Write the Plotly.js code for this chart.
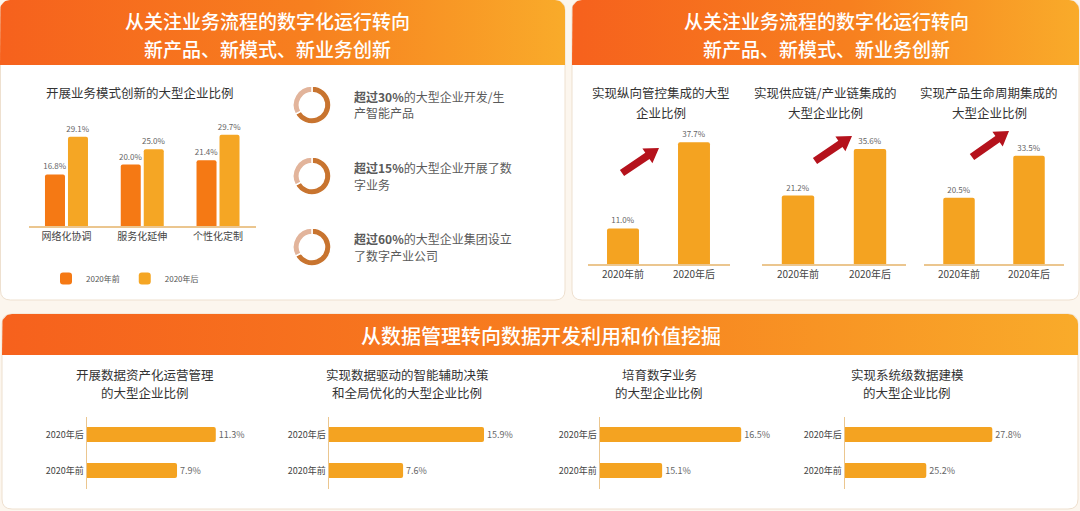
<!DOCTYPE html>
<html><head><meta charset="utf-8">
<script src="https://cdn.plot.ly/plotly-3.0.1.min.js"></script>
<style>html,body{margin:0;padding:0;background:#fcf6ee;}#chart{width:1080px;height:511px;}</style>
</head><body><div id="chart"></div>
<script>
// ---------- DATA ----------
const headerLeft = ['从关注业务流程的数字化运行转向', '新产品、新模式、新业务创新'];
const headerRight = ['从关注业务流程的数字化运行转向', '新产品、新模式、新业务创新'];
const headerBottom = '从数据管理转向数据开发利用和价值挖掘';

const tlTitle = '开展业务模式创新的大型企业比例';
const tlCategories = ['网络化协调', '服务化延伸', '个性化定制'];
const seriesNames = ['2020年前', '2020年后'];
const tlBefore = [16.8, 20.0, 21.4];
const tlAfter = [29.1, 25.0, 29.7];

const donutBold = ['超过30%', '超过15%', '超过60%'];
const donutLine1 = ['的大型企业开发/生', '的大型企业开展了数', '的大型企业集团设立'];
const donutLine2 = ['产智能产品', '字业务', '了数字产业公司'];
const donutShares = [67, 33];

const trTitles = [
  ['实现纵向管控集成的大型', '企业比例'],
  ['实现供应链/产业链集成的', '大型企业比例'],
  ['实现产品生命周期集成的', '大型企业比例']
];
const trPeriods = ['2020年前', '2020年后'];
const trValues1 = [11.0, 37.7];
const trValues2 = [21.2, 35.6];
const trValues3 = [20.5, 33.5];

const btTitles = [
  ['开展数据资产化运营管理', '的大型企业比例'],
  ['实现数据驱动的智能辅助决策', '和全局优化的大型企业比例'],
  ['培育数字业务', '的大型企业比例'],
  ['实现系统级数据建模', '的大型企业比例']
];
const btPeriods = ['2020年前', '2020年后'];
const btValues1 = [7.9, 11.3];
const btValues2 = [7.6, 15.9];
const btValues3 = [15.1, 16.5];
const btValues4 = [25.2, 27.8];

// ---------- HELPERS ----------
const W = 1080, H = 511;
const X = p => p / W, Y = p => 1 - p / H;
const xdom = (a, b) => [X(a), X(b)];
const ydom = (top, bottom) => [Y(bottom), Y(top)];
const FONT = '"Noto Sans CJK SC", "Noto Sans", sans-serif';
const pct = v => v.toFixed(1) + '%';

function topRounded(x0, y0, x1, y1, r) {
  const xs = [], ys = [];
  xs.push(x0); ys.push(y1);
  for (let i = 0; i <= 10; i++) { const a = Math.PI - (Math.PI / 2) * i / 10; xs.push(x0 + r + r * Math.cos(a)); ys.push(y0 + r - r * Math.sin(a)); }
  for (let i = 0; i <= 10; i++) { const a = Math.PI / 2 - (Math.PI / 2) * i / 10; xs.push(x1 - r + r * Math.cos(a)); ys.push(y0 + r - r * Math.sin(a)); }
  xs.push(x1); ys.push(y1);
  xs.push(x0); ys.push(y1);
  return {xs, ys};
}
function roundRectPath(x0, y0, x1, y1, r) {
  return `M${x0 + r},${y0} L${x1 - r},${y0} Q${x1},${y0} ${x1},${y0 + r} L${x1},${y1 - r} Q${x1},${y1} ${x1 - r},${y1} L${x0 + r},${y1} Q${x0},${y1} ${x0},${y1 - r} L${x0},${y0 + r} Q${x0},${y0} ${x0 + r},${y0} Z`;
}
function arrowPath(tx, ty, px, py, sw, hw, hl) {
  const dx = px - tx, dy = py - ty, L = Math.hypot(dx, dy);
  const ux = dx / L, uy = dy / L, nx = -uy, ny = ux;
  const bx = px - ux * hl, by = py - uy * hl;
  const pts = [[tx + nx * sw, ty + ny * sw], [bx + nx * sw, by + ny * sw], [bx + nx * hw, by + ny * hw], [px, py],
               [bx - nx * hw, by - ny * hw], [bx - nx * sw, by - ny * sw], [tx - nx * sw, ty - ny * sw]];
  return 'M' + pts.map(p => p[0].toFixed(1) + ',' + p[1].toFixed(1)).join(' L') + ' Z';
}

const gradScale = [[0, '#f6611d'], [0.55, '#f7801f'], [1, '#f9ab2a']];
function headerTrace(x0, y0, x1, y1) {
  const p = topRounded(x0, y0, x1, y1, 10);
  return {type: 'scatter', x: p.xs, y: p.ys, xaxis: 'x', yaxis: 'y', mode: 'lines', fill: 'toself',
    line: {width: 0, color: 'rgba(0,0,0,0)'}, fillcolor: '#f7801f',
    fillgradient: {type: 'horizontal', colorscale: gradScale},
    hoverinfo: 'skip', showlegend: false};
}

const traces = [];
traces.push(headerTrace(0, 0, 565, 65));
traces.push(headerTrace(572, 0, 1079, 65));
traces.push(headerTrace(2, 314, 1078, 355));

// top-left grouped bars
const ORANGE = '#f57914', YEL = '#f5a624', BARY = '#f4a321';
traces.push({type: 'bar', name: seriesNames[0], x: tlCategories, y: tlBefore, xaxis: 'x2', yaxis: 'y2',
  marker: {color: ORANGE}, text: tlBefore.map(pct), textposition: 'outside', constraintext: 'none', cliponaxis: false,
  textfont: {size: 8, color: '#666'}, hoverinfo: 'skip'});
traces.push({type: 'bar', name: seriesNames[1], x: tlCategories, y: tlAfter, xaxis: 'x2', yaxis: 'y2',
  marker: {color: YEL}, text: tlAfter.map(pct), textposition: 'outside', constraintext: 'none', cliponaxis: false,
  textfont: {size: 8, color: '#666'}, hoverinfo: 'skip'});

// top-right bars
[trValues1, trValues2, trValues3].forEach((vals, i) => {
  traces.push({type: 'bar', x: trPeriods, y: vals, xaxis: 'x' + (3 + i), yaxis: 'y' + (3 + i), width: 0.45,
    marker: {color: BARY}, text: vals.map(pct), textposition: 'outside', constraintext: 'none', cliponaxis: false,
    textfont: {size: 8, color: '#666'}, showlegend: false, hoverinfo: 'skip'});
});

// bottom horizontal bars
[btValues1, btValues2, btValues3, btValues4].forEach((vals, i) => {
  traces.push({type: 'bar', orientation: 'h', y: btPeriods, x: vals, xaxis: 'x' + (6 + i), yaxis: 'y' + (6 + i), width: 0.42,
    marker: {color: BARY}, text: vals.map(pct), textposition: 'outside', constraintext: 'none', cliponaxis: false,
    textfont: {size: 9, color: '#666'}, showlegend: false, hoverinfo: 'skip'});
});

// donuts
const donutY = [105, 176, 247];
donutY.forEach(cy => {
  traces.push({type: 'pie', values: donutShares, labels: ['a', 'b'], sort: false, direction: 'clockwise', rotation: 0,
    hole: 0.66, domain: {x: xdom(312 - 19, 312 + 19), y: ydom(cy - 19, cy + 19)},
    marker: {colors: ['#c8742f', '#e2b49b'], line: {color: '#ffffff', width: 1.5}},
    textinfo: 'none', showlegend: false, hoverinfo: 'skip'});
});

// ---------- LAYOUT ----------
const shapes = [
  {type: 'path', xref: 'x', yref: 'y', path: roundRectPath(0.5, 0.5, 565, 300, 10), fillcolor: '#ffffff', line: {color: '#eee0cf', width: 1}, layer: 'below'},
  {type: 'path', xref: 'x', yref: 'y', path: roundRectPath(572, 0.5, 1079, 300, 10), fillcolor: '#ffffff', line: {color: '#eee0cf', width: 1}, layer: 'below'},
  {type: 'path', xref: 'x', yref: 'y', path: roundRectPath(2, 314, 1078, 509, 10), fillcolor: '#ffffff', line: {color: '#eee0cf', width: 1}, layer: 'below'},
  {type: 'path', xref: 'x', yref: 'y', path: arrowPath(622, 173, 659, 148, 3.8, 9, 14), fillcolor: '#b5121c', line: {width: 0}, layer: 'above'},
  {type: 'path', xref: 'x', yref: 'y', path: arrowPath(815, 161, 852, 136, 3.8, 9, 14), fillcolor: '#b5121c', line: {width: 0}, layer: 'above'},
  {type: 'path', xref: 'x', yref: 'y', path: arrowPath(972, 157, 1009, 131, 3.8, 9, 14), fillcolor: '#b5121c', line: {width: 0}, layer: 'above'}
];

const ann = [];
function txt(text, x, y, size, color, opts) {
  ann.push(Object.assign({text, x: X(x), y: Y(y), xref: 'paper', yref: 'paper', showarrow: false,
    xanchor: 'center', yanchor: 'middle', font: {family: FONT, size, color}}, opts || {}));
}
const HF = {family: FONT, size: 19, color: '#ffffff', weight: 500};
headerLeft.forEach((t, i) => txt(t, 267, [21, 49][i], 19, '#fff', {font: HF}));
headerRight.forEach((t, i) => txt(t, 826, [21, 49][i], 19, '#fff', {font: HF}));
txt(headerBottom, 541, 335, 20, '#fff', {font: Object.assign({}, HF, {size: 20})});

txt(tlTitle, 140, 93, 12.5, '#333');
const trCx = [661, 825, 989];
trTitles.forEach((t, i) => { txt(t[0], trCx[i], 93, 12.5, '#333'); txt(t[1], trCx[i], 112, 12.5, '#333'); });
const btCx = [145, 407, 659, 907];
btTitles.forEach((t, i) => { txt(t[0], btCx[i], 374, 12.5, '#333'); txt(t[1], btCx[i], 392, 12.5, '#333'); });

donutY.forEach((cy, i) => {
  txt('<b>' + donutBold[i] + '</b>' + donutLine1[i], 352, cy - 9, 12, '#5a5a5a', {xanchor: 'left'});
  txt(donutLine2[i], 352, cy + 8, 12, '#5a5a5a', {xanchor: 'left'});
});

const catX = (dom) => ({domain: dom, type: 'category', showline: true, linecolor: '#ebc68f', linewidth: 1.5, ticks: '',
  showgrid: false, zeroline: false, fixedrange: true, tickfont: {family: FONT, size: 10, color: '#444'}});
const hidden = (dom, range) => ({domain: dom, range, visible: false, showgrid: false, zeroline: false, fixedrange: true});

const layout = {
  width: W, height: H, margin: {l: 0, r: 0, t: 0, b: 0},
  paper_bgcolor: '#fcf6ee', plot_bgcolor: 'rgba(0,0,0,0)',
  font: {family: FONT, color: '#444'},
  barmode: 'group', bargap: 0.393, bargroupgap: 0.13, barcornerradius: 2,
  showlegend: true,
  legend: {orientation: 'h', x: X(46), y: Y(264), xanchor: 'left', yanchor: 'top', font: {family: FONT, size: 8, color: '#555'},
    itemwidth: 30, bgcolor: 'rgba(0,0,0,0)', itemclick: false, itemdoubleclick: false},
  xaxis: {domain: [0, 1], range: [0, W], visible: false, fixedrange: true},
  yaxis: {domain: [0, 1], range: [H, 0], visible: false, fixedrange: true},
  xaxis2: Object.assign(catX(xdom(28.6, 255.9)), {anchor: 'y2'}),
  yaxis2: Object.assign(hidden(ydom(110, 226), [0, 37.8]), {anchor: 'x2'}),
  xaxis3: Object.assign(catX(xdom(587.5, 729.5)), {anchor: 'y3'}),
  yaxis3: Object.assign(hidden(ydom(120, 264), [0, 44.6]), {anchor: 'x3'}),
  xaxis4: Object.assign(catX(xdom(762, 906)), {anchor: 'y4'}),
  yaxis4: Object.assign(hidden(ydom(120, 264), [0, 44.6]), {anchor: 'x4'}),
  xaxis5: Object.assign(catX(xdom(924, 1064)), {anchor: 'y5'}),
  yaxis5: Object.assign(hidden(ydom(120, 264), [0, 44.6]), {anchor: 'x5'}),
  shapes, annotations: ann
};
const btDom = [xdom(87, 260), xdom(329, 500), xdom(600, 770), xdom(845, 1020)];
const btRange = [[0, 15.18], [0, 17.54], [14.0, 17.01], [22.0, 28.89]];
for (let i = 0; i < 4; i++) {
  const n = 6 + i;
  layout['xaxis' + n] = Object.assign(hidden(btDom[i], btRange[i]), {anchor: 'y' + n});
  const ya = catX(ydom(416.5, 488.5));
  ya.tickfont = {family: FONT, size: 9, color: '#444'};
  ya.anchor = 'x' + n;
  layout['yaxis' + n] = ya;
}

Plotly.newPlot('chart', traces, layout, {displayModeBar: false, staticPlot: true});
</script>
</body></html>
